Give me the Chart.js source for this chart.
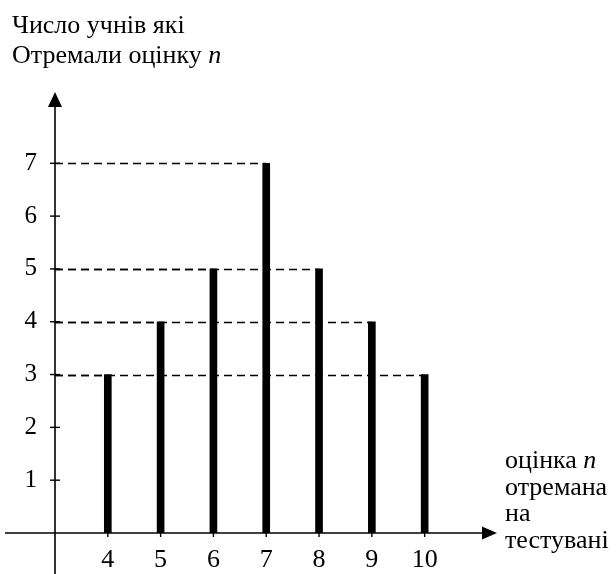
<!DOCTYPE html>
<html lang="uk">
<head>
<meta charset="utf-8">
<script src="https://cdn.jsdelivr.net/npm/chart.js@4.4.1/dist/chart.umd.min.js"></script>
<style>
  html, body { margin: 0; padding: 0; background: #fff; }
  #wrap { width: 616px; height: 574px; }
</style>
</head>
<body>
<div id="wrap"><canvas id="chart" width="616" height="574"></canvas></div>
<script>
// Дані: оцінка n та число учнів, які її отримали
const grades = [4, 5, 6, 7, 8, 9, 10];
const pupils = [3, 4, 5, 7, 5, 4, 3];
const xTicks = [4, 5, 6, 7, 8, 9, 10];
const yTicks = [1, 2, 3, 4, 5, 6, 7];
const yTitleLines = ['Число учнів які', 'Отремали оцінку '];
const xTitleLines = ['оцінка ', 'отремана', 'на', 'тестувані'];

const FONT = '"Liberation Serif", "Times New Roman", serif';

// малюємо осі зі стрілками, риски та пунктирні лінії
const axesPlugin = {
  id: 'axes',
  beforeDatasetsDraw(chart) {
    const { ctx } = chart;
    const xs = chart.scales.x, ys = chart.scales.y;
    const x0 = xs.getPixelForValue(3);
    ctx.save();
    ctx.strokeStyle = '#000';
    ctx.lineWidth = 1.3;
    ctx.setLineDash([8, 5]);
    grades.forEach((g, i) => {
      const y = Math.round(ys.getPixelForValue(pupils[i])) + 0.5;
      ctx.beginPath();
      ctx.moveTo(x0, y);
      ctx.lineTo(xs.getPixelForValue(g), y);
      ctx.stroke();
    });
    ctx.restore();
  },
  afterDraw(chart) {
    const { ctx, chartArea } = chart;
    const xs = chart.scales.x, ys = chart.scales.y;
    const x0 = xs.getPixelForValue(3);
    const y0 = ys.getPixelForValue(0);
    ctx.save();
    ctx.strokeStyle = '#000';
    ctx.fillStyle = '#000';
    ctx.lineWidth = 1.6;
    // вісь Y
    ctx.beginPath();
    ctx.moveTo(x0, chart.height);
    ctx.lineTo(x0, chartArea.top + 10);
    ctx.stroke();
    ctx.beginPath();
    ctx.moveTo(x0, chartArea.top);
    ctx.lineTo(x0 - 7, chartArea.top + 15);
    ctx.lineTo(x0 + 7, chartArea.top + 15);
    ctx.closePath();
    ctx.fill();
    // вісь X
    ctx.beginPath();
    ctx.moveTo(5, y0);
    ctx.lineTo(chartArea.right - 10, y0);
    ctx.stroke();
    ctx.beginPath();
    ctx.moveTo(chartArea.right, y0);
    ctx.lineTo(chartArea.right - 15, y0 - 6.5);
    ctx.lineTo(chartArea.right - 15, y0 + 6.5);
    ctx.closePath();
    ctx.fill();
    // риски
    ctx.lineWidth = 1.4;
    yTicks.forEach(v => {
      const y = ys.getPixelForValue(v);
      ctx.beginPath();
      ctx.moveTo(x0 - 5, y);
      ctx.lineTo(x0 + 5, y);
      ctx.stroke();
    });
    xTicks.forEach(v => {
      const x = xs.getPixelForValue(v);
      ctx.beginPath();
      ctx.moveTo(x, y0);
      ctx.lineTo(x, y0 + 4);
      ctx.stroke();
    });
    // підписи осей
    ctx.textBaseline = 'alphabetic';
    ctx.textAlign = 'left';
    ctx.font = '26px ' + FONT;
    ctx.fillText(yTitleLines[0], 12, 33);
    ctx.fillText(yTitleLines[1], 12, 63);
    let w = ctx.measureText(yTitleLines[1]).width;
    ctx.font = 'italic 26px ' + FONT;
    ctx.fillText('n', 12 + w, 63);

    ctx.font = '26px ' + FONT;
    const tx = 505;
    xTitleLines.forEach((s, i) => ctx.fillText(s, tx, 468 + i * 26.5));
    w = ctx.measureText(xTitleLines[0]).width;
    ctx.font = 'italic 26px ' + FONT;
    ctx.fillText('n', tx + w, 468);
    ctx.restore();
  }
};

new Chart(document.getElementById('chart'), {
  type: 'bar',
  data: {
    datasets: [{
      data: grades.map((g, i) => ({ x: g, y: pupils[i] })),
      backgroundColor: '#000',
      borderWidth: 0,
      barThickness: 7
    }]
  },
  options: {
    responsive: false,
    devicePixelRatio: 1,
    animation: false,
    layout: { padding: { left: 0, top: 92, right: 119, bottom: 0 } },
    plugins: { legend: { display: false }, tooltip: { enabled: false } },
    scales: {
      x: {
        type: 'linear',
        offset: false,
        min: 3,
        max: 11.37,
        grid: { display: false, drawTicks: false },
        border: { display: false },
        afterBuildTicks: s => { s.ticks = xTicks.map(v => ({ value: v })); },
        afterFit: s => { s.height = 41; },
        ticks: {
          autoSkip: false,
          maxRotation: 0,
          padding: 12,
          color: '#000',
          font: { family: FONT, size: 26 }
        }
      },
      y: {
        min: 0,
        max: 8.35,
        grid: { display: false, drawTicks: false },
        border: { display: false },
        afterBuildTicks: s => { s.ticks = yTicks.map(v => ({ value: v })); },
        afterFit: s => { s.width = 55; },
        ticks: {
          padding: 18,
          color: '#000',
          font: { family: FONT, size: 25 }
        }
      }
    }
  },
  plugins: [axesPlugin]
});
</script>
</body>
</html>
